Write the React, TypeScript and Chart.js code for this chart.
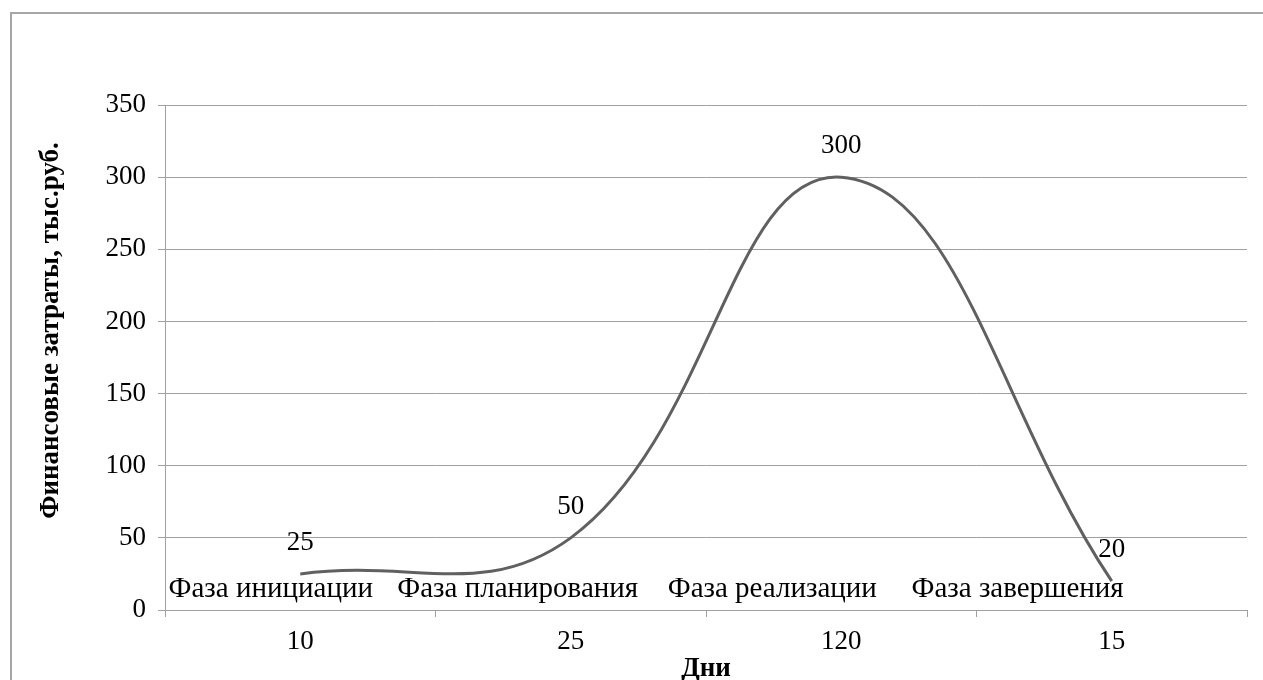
import React, { useEffect, useRef } from "react";
import { Chart, registerables } from "chart.js";

Chart.register(...registerables);

const categories = ["10", "25", "120", "15"];
const costs = [25, 50, 300, 20];
const phases = ["Фаза инициации", "Фаза планирования", "Фаза реализации", "Фаза завершения"];
const yTitle = "Финансовые затраты, тыс.руб.";
const xTitle = "Дни";

const FONT = "'Liberation Serif', 'Times New Roman', serif";

const framePlugin = {
  id: "frame",
  beforeDraw(chart: any) {
    const ctx = chart.ctx;
    ctx.save();
    ctx.fillStyle = "#ffffff";
    ctx.fillRect(0, 0, chart.width, chart.height);
    ctx.strokeStyle = "#a6a6a6";
    ctx.lineWidth = 2;
    ctx.strokeRect(11, 13, chart.width + 20, chart.height + 20);
    ctx.restore();
  },
};

const labelsPlugin = {
  id: "valueLabels",
  afterDatasetsDraw(chart: any, _args: any, opts: any) {
    const ctx = chart.ctx;
    const meta = chart.getDatasetMeta(0);
    const xs = chart.scales.x;
    const area = chart.chartArea;
    ctx.save();
    ctx.fillStyle = "#000000";
    ctx.textAlign = "center";
    ctx.textBaseline = "alphabetic";
    ctx.font = `27px ${FONT}`;
    meta.data.forEach((pt: any, i: number) => {
      ctx.fillText(String(costs[i]), pt.x, pt.y - opts.valueDy);
    });
    ctx.font = `29px ${FONT}`;
    const y0 = chart.scales.y.getPixelForValue(0);
    phases.forEach((p, i) => {
      const x = xs.getPixelForValue(opts.phasePos[i]);
      ctx.fillText(p, x, y0 - opts.phaseDy);
    });
    // axis titles
    ctx.font = `bold 27px ${FONT}`;
    ctx.fillText(xTitle, (area.left + area.right) / 2, chart.height - 4);
    ctx.translate(58, (area.top + area.bottom) / 2 - 27);
    ctx.rotate(-Math.PI / 2);
    ctx.fillText(yTitle, 0, 0);
    ctx.restore();
  },
};

export default function App() {
  const ref = useRef<HTMLCanvasElement>(null);
  useEffect(() => {
    if (!ref.current) return;
    const chart = new Chart(ref.current, {
      type: "line",
      data: {
        labels: categories,
        datasets: [
          {
            data: costs,
            borderColor: "#606060",
            borderWidth: 3,
            pointRadius: 0,
            tension: 0.42,
            fill: false,
          },
        ],
      },
      plugins: [framePlugin, labelsPlugin],
      options: {
        animation: false,
        responsive: false,
        layout: { padding: { left: 0, top: 105, right: 16, bottom: 0 } },
        plugins: {
          legend: { display: false },
          tooltip: { enabled: false },
          valueLabels: {
            valueDy: 24,
            phasePos: [-0.109, 0.804, 1.745, 2.652],
            phaseDy: 13,
          },
        } as any,
        scales: {
          x: {
            offset: true,
            grid: {
              offset: true,
              drawOnChartArea: false,
              color: "#a0a0a0",
              tickLength: 7,
            },
            border: { color: "#a0a0a0" },
            ticks: { color: "#000", font: { family: FONT, size: 27 }, padding: 9 },
            afterFit(scale: any) {
              scale.height = 70;
            },
          },
          y: {
            min: 0,
            max: 350,
            ticks: {
              stepSize: 50,
              color: "#000",
              font: { family: FONT, size: 27 },
              padding: 12,
            },
            grid: { color: "#a0a0a0", tickLength: 7 },
            border: { color: "#a0a0a0" },
            afterFit(scale: any) {
              scale.width = 165;
            },
          },
        },
      },
    });
    return () => chart.destroy();
  }, []);
  return (
    <div style={{ position: "absolute", left: 0, top: 0, width: 1263, height: 680 }}>
      <canvas ref={ref} width={1263} height={680} />
    </div>
  );
}
